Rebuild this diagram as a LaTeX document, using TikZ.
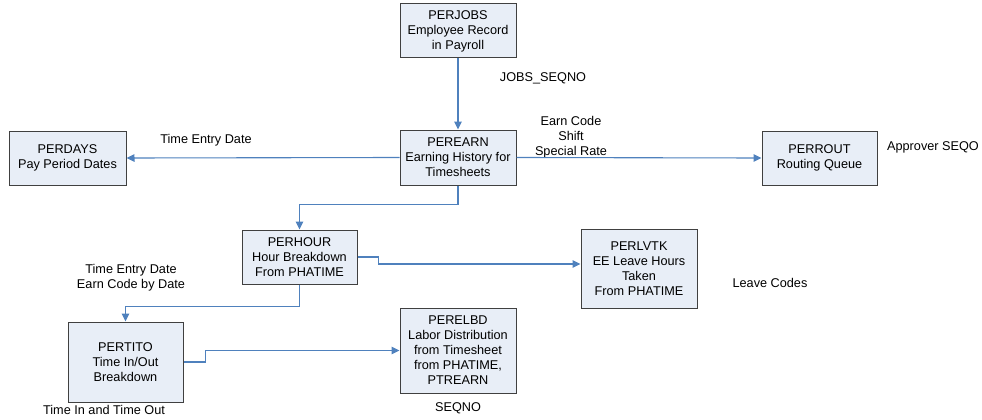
\documentclass[tikz,border=0pt]{standalone}
\usepackage{fontspec}
\setmainfont{Liberation Sans}
\usetikzlibrary{arrows.meta}
\definecolor{boxfill}{RGB}{232,238,247}
\definecolor{boxline}{RGB}{64,64,64}
\definecolor{linkblue}{RGB}{79,129,189}
\tikzset{
	table/.style={draw=boxline, fill=boxfill, line width=1pt, align=center, inner sep=2pt, font=\fontsize{12.7}{15}\selectfont},
	link/.style={draw=linkblue, line width=1.1pt, -{Triangle[length=8pt,width=7.5pt]}},
	note/.style={align=center, inner sep=0pt, font=\fontsize{12.7}{15}\selectfont}
}

\begin{document}
\begin{tikzpicture}[x=1pt, y=-1pt]
		%%%%% START %%%%%
		\useasboundingbox (0, 0) rectangle (982, 420);
		
		\node[table, minimum width=116pt, minimum height=54pt] (perjobs) at (458, 31) {PERJOBS\\Employee Record\\in Payroll};
		\node[table, minimum width=116pt, minimum height=55pt] (perearn) at (458, 157.5) {PEREARN\\Earning History for\\Timesheets};
		\node[table, minimum width=117pt, minimum height=54pt] (perdays) at (67.5, 158) {PERDAYS\\Pay Period Dates};
		\node[table, minimum width=115pt, minimum height=54pt] (perrout) at (819.5, 158) {PERROUT\\Routing Queue};
		\node[table, minimum width=115pt, minimum height=54pt] (perhour) at (299.5, 257) {PERHOUR\\Hour Breakdown\\From PHATIME};
		\node[table, minimum width=116pt, minimum height=79pt] (perlvtk) at (639, 268.5) {PERLVTK\\EE Leave Hours\\Taken\\From PHATIME};
		\node[table, minimum width=115pt, minimum height=80pt] (pertito) at (125.5, 362) {PERTITO\\Time In/Out\\Breakdown};
		\node[table, minimum width=116pt, minimum height=85pt] (perelbd) at (458, 350.5) {PERELBD\\Labor Distribution\\from Timesheet\\from PHATIME,\\PTREARN};
		
		\node[note] (jobsseqno) at (543, 78) {JOBS\_SEQNO};
		\node[note] (entrydate) at (206, 140) {Time Entry Date};
		\node[note] (earncode) at (571, 137.5) {Earn Code\\Shift\\Special Rate};
		\node[note] (approver) at (933, 147) {Approver SEQO};
		\node[note] (leavecodes) at (770, 283) {Leave Codes};
		\node[note] (bydate) at (131, 278) {Time Entry Date\\Earn Code by Date};
		\node[note] (timeinout) at (104, 410) {Time In and Time Out};
		\node[note] (seqno) at (458, 408) {SEQNO};
		
		\draw[link] (perjobs.south) -- (perearn.north);
		\draw[link] (perearn.west) -- (perdays.east);
		\draw[link] (perearn.east) -- (perrout.west);
		\draw[link] (perearn.south) -- ++(0, 19) -| (perhour.north);
		\draw[link] (perhour.east) -- ++(21, 0) |- ([yshift=4.5pt]perlvtk.west);
		\draw[link] (perhour.south) -- ++(0, 22) -| (pertito.north);
		\draw[link] (pertito.east) -- ++(22, 0) |- (perelbd.west);
		%%%%% END %%%%%
	\end{tikzpicture}
\end{document}
